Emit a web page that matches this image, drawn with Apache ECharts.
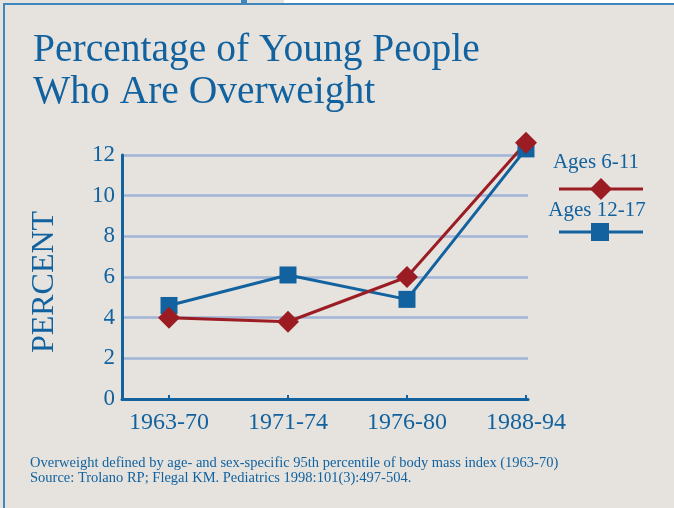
<!DOCTYPE html>
<html>
<head>
<meta charset="utf-8">
<script src="https://cdn.jsdelivr.net/npm/echarts@6/dist/echarts.min.js"></script>
<style>
  html, body { margin: 0; padding: 0; background: #e6e3df; }
  #chart { width: 674px; height: 508px; }
</style>
</head>
<body>
<div id="chart"></div>
<script>
// data
const periods = ['1963-70', '1971-74', '1976-80', '1988-94'];
const ages611 = [4.0, 3.8, 6.0, 12.6];   // red diamonds
const ages1217 = [4.6, 6.1, 4.9, 12.3];  // blue squares
const yTicks = [0, 2, 4, 6, 8, 10, 12];

const BLUE = '#11629f';
const RED = '#9b1d23';
const FONT = '"Liberation Serif", "DejaVu Serif", serif';

const chart = echarts.init(document.getElementById('chart'));

const option = {
  backgroundColor: '#e6e3df',
  animation: false,
  title: {
    text: 'Percentage of Young People\nWho Are Overweight',
    left: 33,
    top: 30,
    padding: 0,
    textStyle: { fontFamily: FONT, fontSize: 39.5, fontWeight: 'normal', color: BLUE, lineHeight: 42 }
  },
  grid: { left: 122, right: 146, top: 155, bottom: 109 },
  xAxis: {
    type: 'value',
    min: -0.395,
    max: 3.017,
    axisLine: { onZero: false, lineStyle: { color: BLUE, width: 3 } },
    axisTick: { show: true, inside: true, length: 4, lineStyle: { color: BLUE, width: 2 }, customValues: periods.map((p, i) => i) },
    axisLabel: {
      customValues: periods.map((p, i) => i),
      formatter: v => periods[Math.round(v)],
      fontFamily: FONT, fontSize: 24, color: BLUE, margin: 12
    },
    splitLine: { show: false }
  },
  yAxis: {
    type: 'value',
    min: yTicks[0],
    max: yTicks[yTicks.length - 1],
    interval: 2,
    axisLine: { show: true, onZero: false, lineStyle: { color: BLUE, width: 3 } },
    axisTick: { show: false },
    axisLabel: { fontFamily: FONT, fontSize: 23, color: BLUE, margin: 7 },
    splitLine: { lineStyle: { color: '#9fb4d6', width: 2.5 } }
  },
  series: [
    {
      name: 'Ages 12-17',
      type: 'line',
      clip: false,
      data: ages1217.map((v, i) => [i, v]),
      symbol: 'rect',
      symbolSize: 17,
      itemStyle: { color: BLUE },
      lineStyle: { color: BLUE, width: 3 }
    },
    {
      name: 'Ages 6-11',
      type: 'line',
      clip: false,
      data: ages611.map((v, i) => [i, v]),
      symbol: 'diamond',
      symbolSize: 22,
      itemStyle: { color: RED },
      lineStyle: { color: RED, width: 3 }
    }
  ],
  graphic: [
    // page frame
    { type: 'rect', shape: { x: 284, y: 0, width: 390, height: 3 }, style: { fill: '#ffffff' } },
    { type: 'rect', shape: { x: 241, y: 0, width: 6, height: 5 }, style: { fill: '#3f86bd' } },
    { type: 'line', shape: { x1: 3, y1: 4, x2: 674, y2: 4 }, style: { stroke: '#3f86bd', lineWidth: 2 } },
    { type: 'line', shape: { x1: 4, y1: 4, x2: 4, y2: 508 }, style: { stroke: '#3f86bd', lineWidth: 2 } },
    // y axis name
    {
      type: 'text', x: 45, y: 282, rotation: Math.PI / 2,
      style: { text: 'PERCENT', font: '32px ' + FONT, fill: BLUE, align: 'center', verticalAlign: 'middle' }
    },
    // legend
    {
      type: 'text', x: 596, y: 162,
      style: { text: 'Ages 6-11', font: '21px ' + FONT, fill: BLUE, align: 'center', verticalAlign: 'middle' }
    },
    { type: 'line', shape: { x1: 559, y1: 189, x2: 643, y2: 189 }, style: { stroke: RED, lineWidth: 3 } },
    { type: 'polygon', shape: { points: [[601, 178], [612, 189], [601, 200], [590, 189]] }, style: { fill: RED } },
    {
      type: 'text', x: 597, y: 210,
      style: { text: 'Ages 12-17', font: '21px ' + FONT, fill: BLUE, align: 'center', verticalAlign: 'middle' }
    },
    { type: 'line', shape: { x1: 559, y1: 232, x2: 643, y2: 232 }, style: { stroke: BLUE, lineWidth: 3 } },
    { type: 'rect', shape: { x: 591, y: 223, width: 18, height: 18 }, style: { fill: BLUE } },
    // footnote
    {
      type: 'text', x: 30, y: 456,
      style: {
        text: 'Overweight defined by age- and sex-specific 95th percentile of body mass index (1963-70)\nSource: Trolano RP; Flegal KM. Pediatrics 1998:101(3):497-504.',
        font: '14.5px ' + FONT, fill: BLUE, lineHeight: 15
      }
    }
  ]
};

chart.setOption(option);
</script>
</body>
</html>
